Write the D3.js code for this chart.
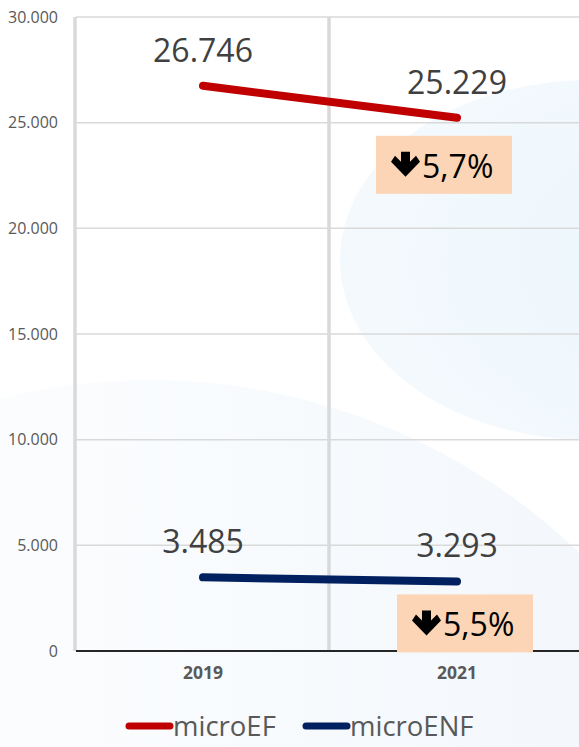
<!DOCTYPE html>
<html>
<head>
<meta charset="utf-8">
<script src="https://cdn.jsdelivr.net/npm/d3@7"></script>
<style>
  html, body { margin: 0; padding: 0; background: #fff; }
  svg { display: block; font-family: "Open Sans", sans-serif; }
</style>
</head>
<body>
<svg id="chart"></svg>
<script>
// chart values
var years = ["2019", "2021"];
var seriesNames = ["microEF", "microENF"];
var microEF = [26746, 25229];
var microENF = [3485, 3293];
var yTicks = [0, 5000, 10000, 15000, 20000, 25000, 30000];

var width = 579, height = 747;
var colors = {microEF: "#c00000", microENF: "#002060"};

// spanish style numbers: 26.746 / 5,7%
var locale = d3.formatLocale({decimal: ",", thousands: ".", grouping: [3], currency: ["", "€"]});
var fmtNum = locale.format(",");
var fmtPct = locale.format(".1%");

var svg = d3.select("#chart").attr("width", width).attr("height", height);

// faint background shapes
svg.append("rect").attr("width", width).attr("height", height).attr("fill", "#ffffff");
var defs = svg.append("defs");
var g1 = defs.append("linearGradient").attr("id", "bgLow").attr("x1", "0").attr("x2", "1").attr("y1", "0").attr("y2", "0");
g1.append("stop").attr("offset", "0").attr("stop-color", "#ffffff");
g1.append("stop").attr("offset", "0.45").attr("stop-color", "#fafcfe");
g1.append("stop").attr("offset", "1").attr("stop-color", "#f1f6fb");
var g2 = defs.append("radialGradient").attr("id", "bgCircle").attr("cx", "0.7").attr("cy", "0.5").attr("r", "0.6");
g2.append("stop").attr("offset", "0").attr("stop-color", "#ebf6fc");
g2.append("stop").attr("offset", "1").attr("stop-color", "#f3f9fd");
svg.append("ellipse").attr("cx", 150).attr("cy", 1000).attr("rx", 620).attr("ry", 620)
  .attr("fill", "url(#bgLow)");
svg.append("ellipse").attr("cx", 590).attr("cy", 260).attr("rx", 250).attr("ry", 180)
  .attr("fill", "url(#bgCircle)");

var x = d3.scaleBand().domain(years).range([76, 584]).padding(0);
var y = d3.scaleLinear().domain([0, 30000]).range([651, 17]);

// horizontal gridlines
svg.append("g").selectAll("line")
  .data(yTicks.slice(1))
  .enter().append("line")
  .attr("x1", 76).attr("x2", width)
  .attr("y1", function(d) { return y(d); })
  .attr("y2", function(d) { return y(d); })
  .attr("stroke", "#d9d9d9").attr("stroke-width", 1.5);

// vertical gridlines at category boundaries
var xBounds = [x.range()[0], x("2021")];
svg.append("g").selectAll("line")
  .data(xBounds)
  .enter().append("line")
  .attr("x1", function(d) { return d - 1; })
  .attr("x2", function(d) { return d - 1; })
  .attr("y1", y(30000)).attr("y2", y(0))
  .attr("stroke", "#d9d9d9").attr("stroke-width", 3.5);

// y axis labels
var yAxis = d3.axisLeft(y).tickValues(yTicks).tickSize(0).tickPadding(0)
  .tickFormat(function(d) { return fmtNum(d); });
var yg = svg.append("g").attr("transform", "translate(58,0)").call(yAxis);
yg.select(".domain").remove();
yg.selectAll("text")
  .attr("font-family", "Open Sans, sans-serif")
  .attr("font-size", 16)
  .attr("fill", "#595959");

// baseline
svg.append("line")
  .attr("x1", 76).attr("x2", width)
  .attr("y1", y(0)).attr("y2", y(0))
  .attr("stroke", "#262626").attr("stroke-width", 2);

// x axis labels
var xAxis = d3.axisBottom(x).tickSize(0).tickPadding(0);
var xg = svg.append("g").attr("transform", "translate(0,667)").call(xAxis);
xg.select(".domain").remove();
xg.selectAll("text")
  .attr("font-family", "Open Sans, sans-serif")
  .attr("font-size", 17.5)
  .attr("font-weight", "bold")
  .attr("fill", "#595959");

var series = [
  {name: "microEF", values: microEF, box: {dx: -81, dy: 18}},
  {name: "microENF", values: microENF, box: {dx: -60, dy: 13}}
];

var line = d3.line()
  .x(function(d, i) { return x(years[i]) + x.bandwidth() / 2; })
  .y(function(d) { return y(d); });

series.forEach(function(s) {
  svg.append("path")
    .attr("d", line(s.values))
    .attr("fill", "none")
    .attr("stroke", colors[s.name])
    .attr("stroke-width", 8)
    .attr("stroke-linecap", "round");

  // value labels
  svg.append("g").selectAll("text")
    .data(s.values)
    .enter().append("text")
    .attr("x", function(d, i) { return x(years[i]) + x.bandwidth() / 2; })
    .attr("y", function(d) { return y(d) - 24; })
    .attr("text-anchor", "middle")
    .attr("font-size", 32)
    .attr("fill", "#404040")
    .text(function(d) { return fmtNum(d); });

  // change box
  var last = s.values[s.values.length - 1];
  var change = (last - s.values[0]) / s.values[0];
  var bx = x(years[1]) + x.bandwidth() / 2 + s.box.dx;
  var by = y(last) + s.box.dy;
  var bg = svg.append("g").attr("transform", "translate(" + bx + "," + by + ")");
  bg.append("rect").attr("width", 136).attr("height", 58).attr("fill", "#fbd5b5");
  // down arrow
  bg.append("path")
    .attr("d", "M25,16 L34,16 L34,26 L40,20 L44,26 L29.5,41 L15,26 L19,20 L25,26 Z")
    .attr("fill", "#000");
  bg.append("text")
    .attr("x", 46).attr("y", 42)
    .attr("font-size", 32)
    .attr("fill", "#000")
    .text(fmtPct(Math.abs(change)));
});

// legend
var legendX = [126, 303];
var lg = svg.append("g").selectAll("g")
  .data(seriesNames)
  .enter().append("g")
  .attr("transform", function(d, i) { return "translate(" + legendX[i] + ",726)"; });
lg.append("line")
  .attr("x1", 3).attr("x2", 44)
  .attr("stroke", function(d) { return colors[d]; })
  .attr("stroke-width", 7)
  .attr("stroke-linecap", "round");
lg.append("text")
  .attr("x", 47).attr("y", 10)
  .attr("font-size", 27.5)
  .attr("fill", "#595959")
  .text(function(d) { return d; });
</script>
</body>
</html>
